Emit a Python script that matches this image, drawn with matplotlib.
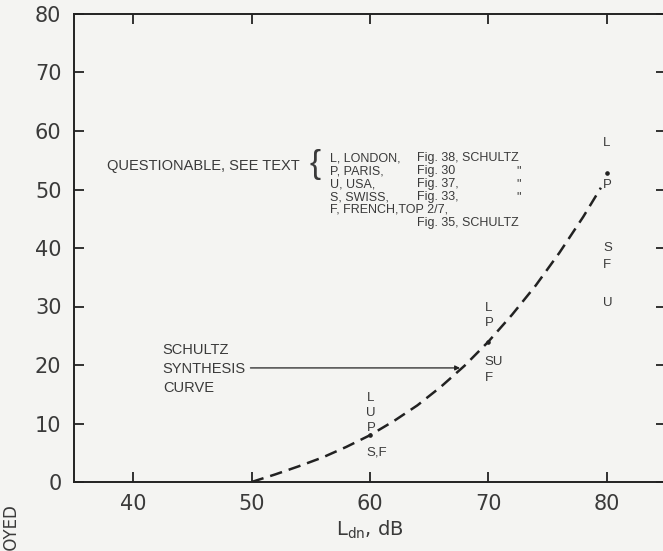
import matplotlib
matplotlib.use("Agg")
import matplotlib.pyplot as plt

BG = "#f4f4f2"
INK = "#3a3a3a"
LINE = "#222222"

# Schultz synthesis curve
ldn_curve = [50, 52, 54, 56, 58, 60, 62, 64, 66, 68, 70, 72, 74, 76, 78, 79.5]
ha_curve = [0.0, 1.3, 2.7, 4.2, 6.0, 8.0, 10.4, 13.1, 16.3, 19.9, 24.0, 28.6, 33.6, 39.2, 45.3, 50.3]

# dots on the curve
dot_x = [60, 70, 80]
dot_y = [8.0, 23.9, 52.8]

# survey letters
letter_x = [60, 60, 60, 60, 70, 70, 70, 70, 80, 80, 80, 80, 80]
letter_y = [14.4, 11.8, 9.2, 5.1, 29.7, 27.2, 20.5, 17.8, 58.0, 50.8, 40.0, 37.1, 30.6]
letter_txt = ["L", "U", "P", "S,F", "L", "P", "SU", "F", "L", "P", "S", "F", "U"]

x_ticks = [40, 50, 60, 70, 80]
y_ticks = [0, 10, 20, 30, 40, 50, 60, 70, 80]

key_codes = ["L, LONDON,", "P, PARIS,", "U, USA,", "S, SWISS,", "F, FRENCH,TOP 2/7,", ""]
key_figs = ["Fig. 38, SCHULTZ", "Fig. 30", "Fig. 37,", "Fig. 33,", "", "Fig. 35, SCHULTZ"]
key_ditto = ["", '"', '"', '"', "", ""]

SANS = ["Liberation Sans", "DejaVu Sans"]
FS = 9

fig = plt.figure(figsize=(6.63, 5.51), dpi=100, facecolor=BG)
ax = fig.add_axes([74 / 663, 69 / 551, (666 - 74) / 663, (482 - 14) / 551])
ax.set_facecolor(BG)
ax.set_xlim(35, 85)
ax.set_ylim(0, 80)

ax.plot(ldn_curve, ha_curve, color=LINE, lw=1.8, dashes=(5, 2.8), solid_capstyle="butt")
ax.plot(dot_x, dot_y, "o", color=LINE, ms=2.3)

for x, y, t in zip(letter_x, letter_y, letter_txt):
    ax.text(x - 0.3, y, t, ha="left", va="center", fontsize=9.5, color=INK, family=SANS)

ax.set_xticks(x_ticks)
ax.set_yticks(y_ticks)
ax.tick_params(direction="in", length=7, width=1.3, top=True, right=True,
               labelsize=15, colors=LINE, labelcolor=INK, pad=9)
for spine in ax.spines.values():
    spine.set_color(LINE)
    spine.set_linewidth(1.4)

ax.set_xlabel(r"L$_{\rm dn}$, dB", fontsize=14, color=INK, labelpad=3)

# questionable-data key
ax.text(54.1, 54.0, "QUESTIONABLE, SEE TEXT", ha="right", va="center",
        fontsize=10.5, color=INK, family=SANS)
ax.text(55.4, 54.2, "{", ha="center", va="center", fontsize=24, color=INK, family=SANS)
for i, (c, f, d) in enumerate(zip(key_codes, key_figs, key_ditto)):
    y = 55.3 - i * 2.2
    ax.text(56.6, y, c, ha="left", va="center", fontsize=FS, color=INK, family=SANS)
    ax.text(64.0, y, f, ha="left", va="center", fontsize=FS, color=INK, family=SANS)
    ax.text(72.4, y, d, ha="left", va="center", fontsize=FS, color=INK, family=SANS)

# curve label with arrow
ax.text(42.5, 19.3, "SCHULTZ\nSYNTHESIS\nCURVE", ha="left", va="center",
        fontsize=10.5, color=INK, family=SANS, linespacing=1.45)
ax.annotate("", xy=(67.6, 19.5), xytext=(49.9, 19.5),
            arrowprops=dict(arrowstyle="-|>", color=LINE, lw=0.9,
                            mutation_scale=7, shrinkA=0, shrinkB=0))

fig.text(12 / 663, 1 - 505 / 551, "% HIGHLY ANNOYED", rotation=90, ha="center",
         va="top", fontsize=12, color=INK)

fig.savefig("out.png", dpi=100, facecolor=BG)
